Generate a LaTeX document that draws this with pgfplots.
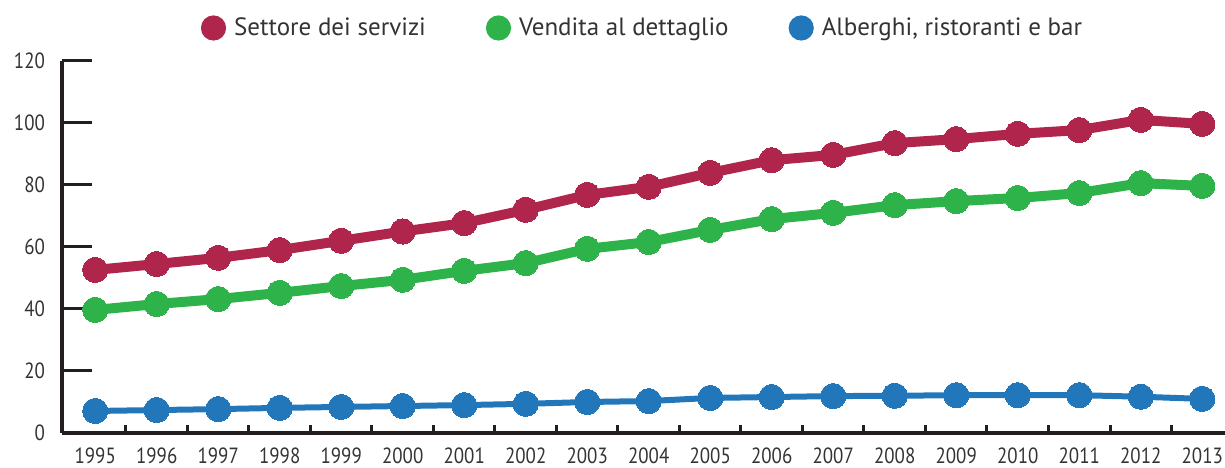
\documentclass[border=0pt]{standalone}
\usepackage{pgfplots}
\pgfplotsset{compat=1.18}
\usepackage{fontspec}
\setmainfont{PT Sans}
\newfontfamily\tickfont[FakeStretch=0.86]{PT Sans}
\definecolor{cred}{RGB}{176,37,75}
\definecolor{cgreen}{RGB}{45,179,74}
\definecolor{cblue}{RGB}{34,119,187}
\definecolor{ctext}{RGB}{51,51,51}
\definecolor{caxis}{RGB}{35,31,32}
\begin{document}
\begin{tikzpicture}
\begin{axis}[
  scale only axis, width=581.5pt, height=186pt,
  xmin=-0.54, xmax=18.37, ymin=0, ymax=120,
  axis x line*=bottom, axis y line*=left,
  axis line style={-, line width=2pt, caxis},
  ytick={0,20,...,120},
  xtick={0,...,18},
  xticklabels={1995,1996,1997,1998,1999,2000,2001,2002,2003,2004,2005,2006,2007,2008,2009,2010,2011,2012,2013},
  minor xtick={0.5,1.5,...,17.5},
  tick align=inside,
  major tick length=15pt, minor tick length=4pt,
  x tick style={draw=none},
  minor x tick style={draw=caxis, line width=1.5pt},
  y tick style={draw=caxis, line width=1.5pt},
  ticklabel style={font=\tickfont\fontsize{11}{12}\selectfont, text=ctext},
  /pgf/number format/assume math mode=true,
  yticklabel style={xshift=-5pt},
  xticklabel style={anchor=north, inner sep=0pt, yshift=-7pt},
  clip=false,
  legend style={at={(0.5,1)}, anchor=center, yshift=16.5pt, draw=none, fill=none,
    font=\fontsize{12.5}{14}\selectfont, text=ctext,
    /tikz/every even column/.append style={column sep=28pt},
    /tikz/every odd column/.append style={column sep=2pt}},
  legend columns=3,
  legend image code/.code={\fill[draw=none] (3pt,0pt) circle (6.3pt);},
]
\addplot[color=cred, line width=5pt, mark=*, mark size=6.3pt, mark options={line width=0pt}] coordinates {
(0,52.6)(1,54.5)(2,56.5)(3,59)(4,62)(5,65)(6,67.7)(7,72)(8,76.8)(9,79.4)(10,83.9)(11,88)(12,89.7)(13,93.5)(14,94.8)(15,96.5)(16,97.7)(17,101)(18,99.7)};
\addlegendentry{Settore dei servizi}
\addplot[color=cgreen, line width=5pt, mark=*, mark size=6.3pt, mark options={line width=0pt}] coordinates {
(0,39.7)(1,41.6)(2,43.2)(3,45.2)(4,47.4)(5,49.4)(6,52.3)(7,54.8)(8,59.4)(9,61.6)(10,65.5)(11,69)(12,71)(13,73.5)(14,74.8)(15,75.8)(16,77.4)(17,80.6)(18,79.7)};
\addlegendentry{Vendita al dettaglio}
\addplot[color=cblue, line width=3pt, mark=*, mark size=6.3pt, mark options={line width=0pt}] coordinates {
(0,7.1)(1,7.4)(2,7.7)(3,8.1)(4,8.4)(5,8.7)(6,9)(7,9.4)(8,10)(9,10.3)(10,11.3)(11,11.6)(12,11.9)(13,12)(14,12.2)(15,12.2)(16,12.2)(17,11.7)(18,11)};
\addlegendentry{Alberghi, ristoranti e bar}
\path (rel axis cs:0,0) ++(-31pt,-17.5pt) coordinate (bl);
\path (rel axis cs:1,1) ++(0pt,30.5pt) coordinate (tr);
\end{axis}
\pgfresetboundingbox
\path[use as bounding box] (bl) rectangle (tr);
\end{tikzpicture}
\end{document}
